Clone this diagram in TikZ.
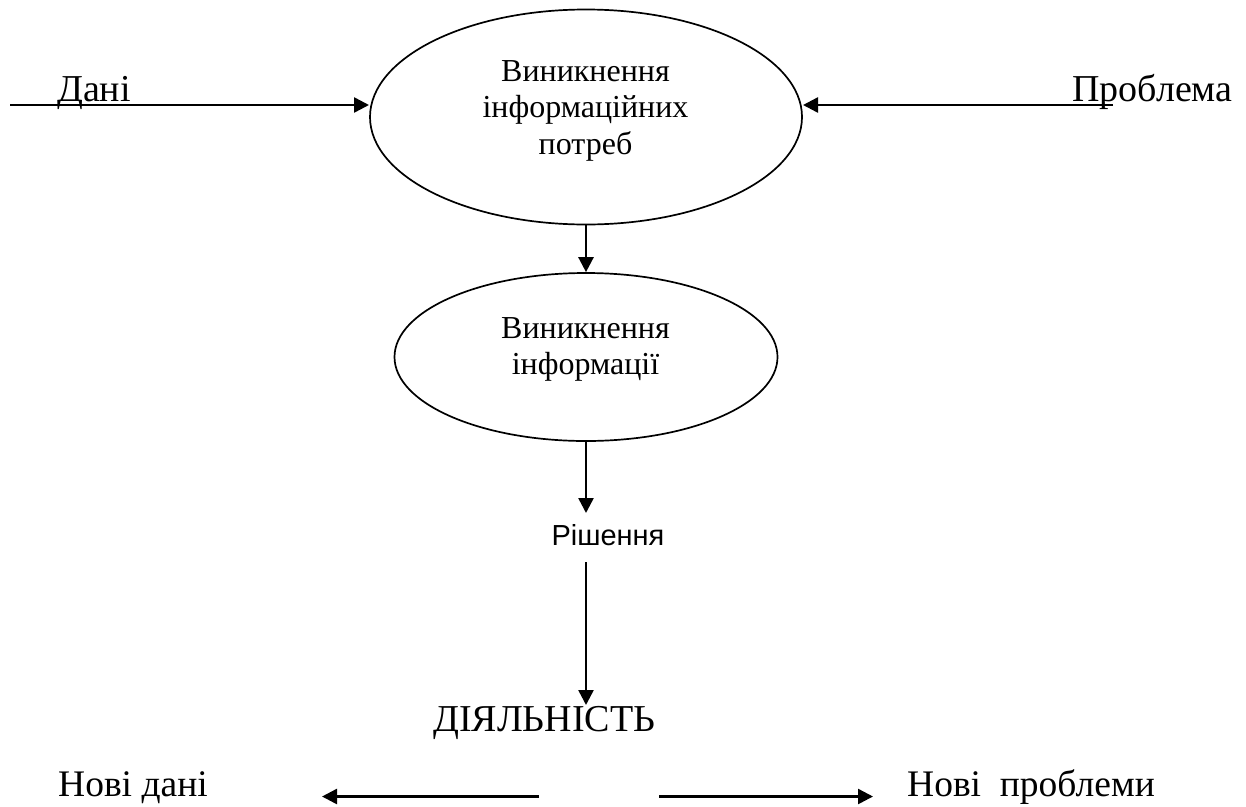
\documentclass[tikz,border=0pt]{standalone}
\usepackage{fontspec}
\setmainfont{Liberation Serif}
\newfontfamily\arialf{Liberation Sans}
\usetikzlibrary{shapes.geometric,arrows.meta}
\tikzset{
  bubble/.style={draw,ellipse,line width=1.7pt,inner sep=0pt},
  bubbletext/.style={inner sep=0pt,align=center,font=\fontsize{32}{36.5}\selectfont},
  big/.style={inner sep=0pt,anchor=base west,font=\fontsize{38}{44}\selectfont},
  conn/.style={line width=2.5pt,-{Triangle[length=15pt,width=15pt]}}
}
\begin{document}
\begin{tikzpicture}[x=1pt,y=-1pt]
\useasboundingbox (0,0) rectangle (1246,806);
\node[bubble,minimum width=432,minimum height=215] (a) at (586,117) {};
\node[bubble,minimum width=383,minimum height=168] (b) at (586,357) {};
\node[bubbletext] (atext) at (585.5,110.5) {Виникнення\\інформаційних\\потреб};
\node[bubbletext] (btext) at (585.5,349.5) {Виникнення\\інформації};
\node[big] (dani) at (57,101.5) {Дані};
\node[big] (prob) at (1072,101.5) {Проблема};
\node[inner sep=0pt,font=\arialf\fontsize{29}{34}\selectfont] (rish) at (608,535) {Рішення};
\node[big] (diy) at (433,731) {ДІЯЛЬНІСТЬ};
\node[big,font=\fontsize{37.5}{44}\selectfont] (nd) at (58,796) {Нові дані};
\node[big,font=\fontsize{37.5}{44}\selectfont] (np) at (907,796) {Нові\ \ проблеми};
\coordinate (s1) at (10,105);
\coordinate (e1) at (369,105);
\coordinate (s2) at (1113,105);
\coordinate (e2) at (803,105);
\coordinate (l1) at (539,796.5);
\coordinate (l2) at (322,796.5);
\coordinate (r1) at (659,796.5);
\coordinate (r2) at (873,796.5);
\coordinate (t1) at (586,441);
\coordinate (t2) at (586,513);
\coordinate (u1) at (586,562);
\coordinate (u2) at (586,705);
\draw[conn] (s1) -- (e1);
\draw[conn] (s2) -- (e2);
\draw[conn] (a.south) -- (b.north);
\draw[conn] (t1) -- (t2);
\draw[conn] (u1) -- (u2);
\draw[conn] (l1) -- (l2);
\draw[conn] (r1) -- (r2);
\end{tikzpicture}
\end{document}
